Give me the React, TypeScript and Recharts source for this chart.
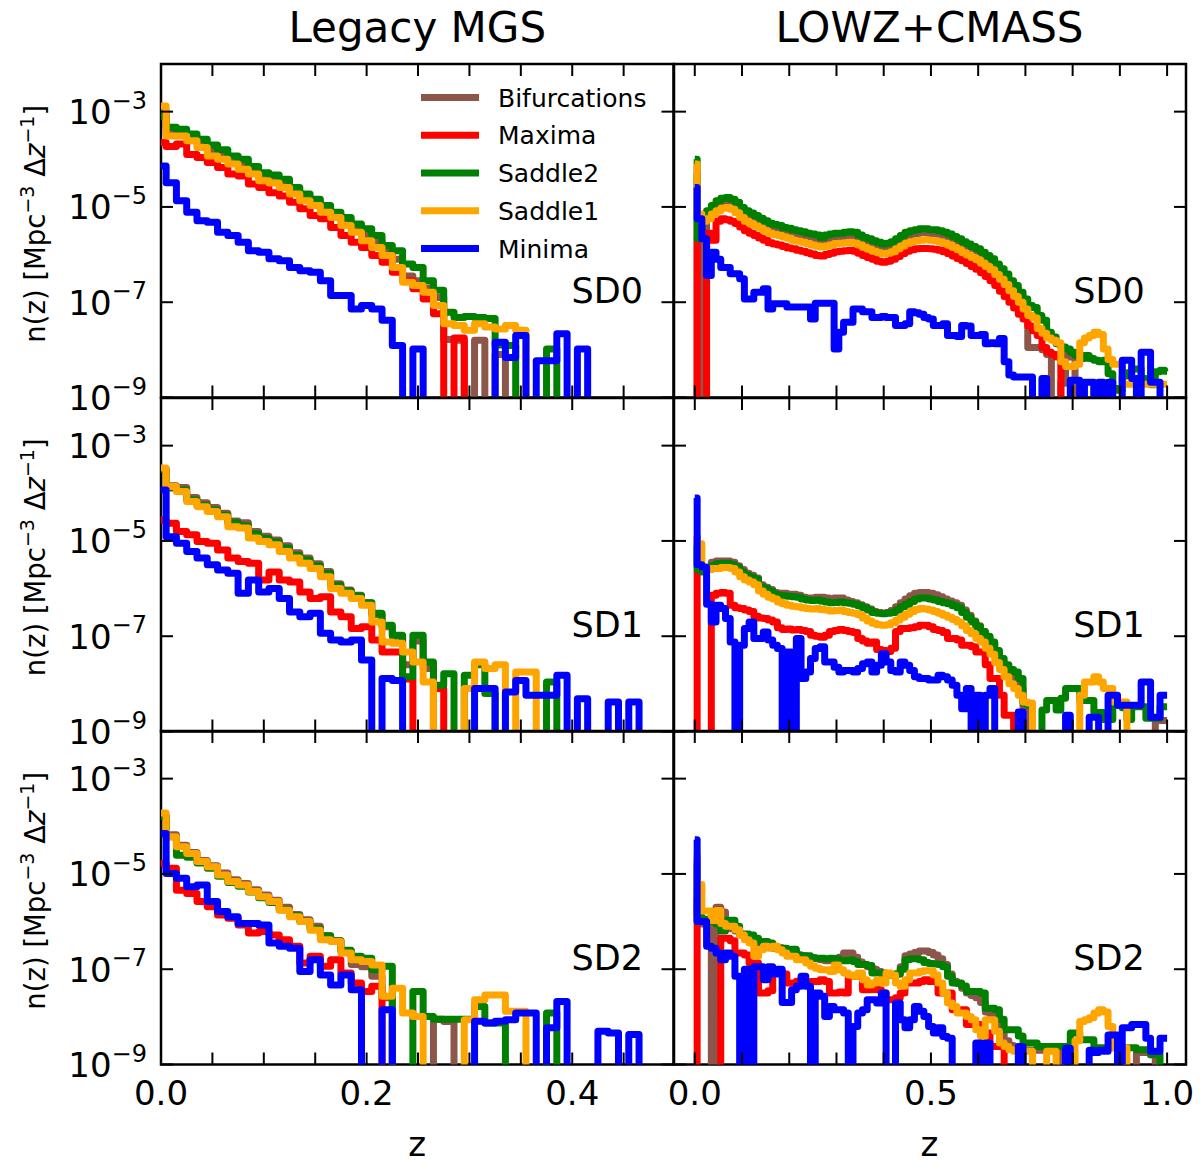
import React from "react";
import { LineChart, Line, XAxis, YAxis, ReferenceArea, Legend } from "recharts";

const FONT = "DejaVu Sans";
// empty bin: far below the 1e-9 floor, so the step drops out of the frame
const E = -12;

// bin centres (dz = 0.01)
const zMgs = Array.from({ length: 50 }, (_, i) => i / 100);
const zLowz = Array.from({ length: 101 }, (_, i) => i / 100);

const mgsTicks = [0, 0.05, 0.1, 0.15, 0.2, 0.25, 0.3, 0.35, 0.4, 0.45];
const mgsTickLabels = [0, 0.2, 0.4];
const lowzTicks = [0, 0.1, 0.2, 0.3, 0.4, 0.5, 0.6, 0.7, 0.8, 0.9, 1.0];
const lowzTickLabels = [0, 0.5, 1.0];
const yTicks = [1e-9, 1e-7, 1e-5, 1e-3];

const seriesKeys = ["bif", "max", "s2", "s1", "min"];
const seriesNames = ["Bifurcations", "Maxima", "Saddle2", "Saddle1", "Minima"];
const seriesColors = ["#8c564b", "#ff0000", "#008000", "#ffa500", "#0000ff"];

const sdLabels = ["SD0", "SD1", "SD2"];
const titles = ["Legacy MGS", "LOWZ+CMASS"];

// ---- log10 n(z), Legacy MGS ----
const mgs0Bif = [
  -3.0, -3.42, -3.45, -3.55, -3.67, -3.82, -3.9, -4.02, -4.1, -4.23,
  -4.36, -4.42, -4.5, -4.66, -4.8, -4.9, -5.04, -5.16, -5.3, -5.44,
  -5.58, -5.72, -5.9, -6.1, -6.45, -6.55, -6.7, -6.9, -7.78, -7.8,
  E, -7.8, E, -8.1, E, E, E, E, E, E,
  E, E, E, E, E, E, E, E, E, E,
];
const mgs0Max = [
  -3.65, -3.73, -3.68, -3.9, -3.96, -4.07, -4.17, -4.31, -4.35, -4.52,
  -4.59, -4.7, -4.77, -4.9, -5.04, -5.18, -5.25, -5.43, -5.6, -5.74,
  -5.85, -6.02, -6.16, -6.37, -6.55, -6.72, -6.93, -7.24, E, -7.75,
  E, E, E, E, E, E, E, E, E, E,
  E, E, E, E, E, E, E, E, E, E,
];
const mgs0S2 = [
  -3.1, -3.33, -3.37, -3.47, -3.58, -3.7, -3.8, -3.93, -4.0, -4.15,
  -4.28, -4.33, -4.42, -4.59, -4.73, -4.84, -4.97, -5.11, -5.22, -5.36,
  -5.46, -5.6, -5.81, -5.92, -6.2, -6.27, -6.55, -6.75, -7.21, -7.32,
  -7.3, -7.32, -7.34, -7.9, -7.91, E, E, E, -7.98, E,
  E, E, E, E, E, E, E, E, E, E,
];
const mgs0S1 = [
  -2.88, -3.51, -3.51, -3.61, -3.75, -3.93, -4.0, -4.1, -4.21, -4.31,
  -4.45, -4.5, -4.59, -4.73, -4.87, -4.97, -5.11, -5.22, -5.39, -5.53,
  -5.71, -5.85, -6.02, -6.27, -6.58, -6.65, -6.79, -7.07, -7.45, -7.49,
  -7.59, -7.45, -7.52, -7.56, -7.49, -7.59, E, E, E, E,
  E, E, E, E, E, E, E, E, E, E,
];
const mgs0Min = [
  -4.14, -4.49, -4.87, -5.11, -5.29, -5.32, -5.53, -5.6, -5.74, -5.92,
  -5.95, -6.09, -6.13, -6.27, -6.34, -6.37, -6.55, -6.86, -6.86, -7.14,
  -7.07, -7.14, -7.38, -7.91, E, -7.98, E, E, E, E,
  E, E, E, -7.84, -8.16, -7.7, E, -8.23, -8.23, -7.66,
  E, -7.98, E, E, E, E, E, E, E, E,
];

const mgs1Bif = [
  -3.5, -3.84, -3.88, -4.09, -4.2, -4.3, -4.42, -4.58, -4.62, -4.8,
  -4.9, -4.98, -5.1, -5.25, -5.36, -5.48, -5.64, -5.9, -6.03, -6.14,
  -6.3, -6.55, -6.8, -7.0, -7.6, -7.1, -7.68, E, E, E,
  E, E, E, E, E, E, E, E, E, E,
  E, E, E, E, E, E, E, E, E, E,
];
const mgs1Max = [
  -4.56, -4.63, -4.8, -4.87, -5.01, -5.05, -5.19, -5.36, -5.43, -5.47,
  -5.82, -5.65, -5.82, -5.86, -6.07, -6.21, -6.17, -6.49, -6.59, -6.84,
  -6.8, -7.08, -7.33, -7.33, -7.9, E, E, -8.1, E, E,
  E, E, E, E, E, E, E, E, E, E,
  E, E, E, E, E, E, E, E, E, E,
];
const mgs1S2 = [
  -3.5, -3.89, -3.93, -4.14, -4.25, -4.35, -4.46, -4.62, -4.68, -4.85,
  -4.95, -5.02, -5.15, -5.3, -5.4, -5.52, -5.68, -5.93, -6.05, -6.15,
  -6.3, -6.52, -6.77, -6.98, -7.85, -6.98, -7.54, -8.03, -7.79, E,
  -7.82, -7.6, -8.2, E, E, E, E, E, -7.96, E,
  E, E, E, E, E, E, E, E, E, E,
];
const mgs1S1 = [
  -3.47, -3.86, -3.96, -4.17, -4.28, -4.38, -4.49, -4.7, -4.73, -4.94,
  -5.01, -5.08, -5.22, -5.36, -5.47, -5.58, -5.75, -6.0, -6.1, -6.21,
  -6.35, -6.7, -7.12, -7.15, -7.33, -7.54, -7.96, E, E, E,
  -8.1, -7.54, -7.68, -7.6, E, -7.75, -7.75, E, E, E,
  E, E, E, E, E, E, E, E, E, E,
];
const mgs1Min = [
  -3.93, -4.91, -5.05, -5.22, -5.36, -5.5, -5.61, -5.68, -6.1, -5.82,
  -6.07, -6.0, -6.21, -6.49, -6.59, -6.52, -6.94, -7.08, -7.12, -7.08,
  -7.5, E, -7.89, -7.93, E, E, E, E, E, E,
  E, -8.1, -8.1, E, -8.17, -7.93, -8.24, -8.24, -8.24, -7.82,
  E, -8.31, E, E, -8.38, E, -8.38, E, E, E,
];

const mgs2Bif = [
  -3.78, -4.18, -4.4, -4.55, -4.72, -4.83, -4.98, -5.12, -5.2, -5.33,
  -5.44, -5.55, -5.7, -5.85, -5.96, -6.1, -6.3, -6.4, -6.62, -6.9,
  -6.95, -7.15, -7.6, E, E, E, E, -8.05, -8.1, E,
  E, E, E, E, E, E, E, E, E, E,
  E, E, E, E, E, E, E, E, E, E,
];
const mgs2Max = [
  -4.78, -4.88, -5.34, -5.41, -5.58, -5.69, -5.86, -5.93, -6.07, -6.24,
  -6.21, -6.28, -6.38, -6.52, -6.87, -6.73, -6.94, -6.8, -7.08, -7.29,
  -7.47, -7.36, E, E, E, E, E, E, E, E,
  E, E, E, E, E, E, E, E, E, E,
  E, E, E, E, E, E, E, E, E, E,
];
const mgs2S2 = [
  -3.8, -4.22, -4.61, -4.65, -4.77, -4.88, -5.05, -5.18, -5.26, -5.38,
  -5.5, -5.6, -5.75, -5.88, -6.0, -6.15, -6.3, -6.4, -6.6, -6.73,
  -6.77, -7.01, -6.94, E, E, -7.47, -7.99, -8.05, -8.05, -8.05,
  -8.05, -7.78, -8.13, -8.13, E, E, E, E, -7.92, E,
  E, E, E, E, E, E, E, E, E, E,
];
const mgs2S1 = [
  -3.72, -4.22, -4.43, -4.57, -4.74, -4.85, -5.02, -5.16, -5.23, -5.37,
  -5.48, -5.58, -5.76, -5.9, -6.0, -6.18, -6.38, -6.42, -6.66, -6.8,
  -6.84, -6.91, -7.57, -7.4, -7.92, -7.99, E, E, E, E,
  -8.06, -7.64, -7.54, -7.54, -7.88, -7.88, E, E, E, E,
  E, E, E, E, E, E, E, E, E, E,
];
const mgs2Min = [
  -4.15, -4.99, -5.09, -5.27, -5.23, -5.58, -5.79, -5.9, -6.04, -6.04,
  -6.07, -6.45, -6.52, -6.56, -7.05, -6.8, -7.12, -7.33, -7.12, -7.43,
  E, E, -7.85, E, E, E, E, E, E, E,
  E, -8.09, -8.13, -8.09, -8.06, -7.92, -7.92, E, -8.23, -7.68,
  E, E, E, -8.3, -8.34, E, -8.37, E, E, E,
];

// ---- log10 n(z), LOWZ+CMASS ----
const lowz0Bif = [
  -4.3, E, -5.67, -5.15, -5.05, -4.95, -4.9, -4.88, -4.92, -4.98,
  -5.09, -5.16, -5.21, -5.26, -5.32, -5.37, -5.42, -5.45, -5.47, -5.51,
  -5.53, -5.56, -5.58, -5.6, -5.63, -5.65, -5.67, -5.72, -5.67, -5.65,
  -5.63, -5.63, -5.61, -5.6, -5.61, -5.67, -5.72, -5.75, -5.79, -5.82,
  -5.86, -5.84, -5.81, -5.75, -5.68, -5.61, -5.58, -5.56, -5.54, -5.54,
  -5.56, -5.56, -5.58, -5.61, -5.65, -5.7, -5.75, -5.81, -5.86, -5.91,
  -5.96, -6.03, -6.1, -6.17, -6.28, -6.38, -6.49, -6.63, -6.73, -6.87,
  -7.2, -7.95, -7.95, -7.95, -8.0, -8.1, E, E, -8.7, -8.12,
  -8.15, E, E, E, E, -8.7, -8.7, E, E, E,
  E, E, E, E, E, E, E, E, E, E,
  E,
];
const lowz0Max = [
  -5.67, E, E, -5.55, -5.7, -5.3, -5.25, -5.27, -5.3, -5.35,
  -5.42, -5.5, -5.55, -5.6, -5.65, -5.7, -5.75, -5.78, -5.8, -5.83,
  -5.86, -5.88, -5.91, -5.93, -5.96, -5.99, -6.02, -6.03, -6.0, -5.97,
  -5.94, -5.93, -5.92, -5.91, -5.93, -5.97, -6.02, -6.06, -6.1, -6.14,
  -6.16, -6.14, -6.1, -6.04, -5.98, -5.93, -5.9, -5.88, -5.87, -5.87,
  -5.88, -5.89, -5.91, -5.94, -5.98, -6.03, -6.08, -6.13, -6.19, -6.25,
  -6.31, -6.38, -6.46, -6.55, -6.65, -6.77, -6.88, -7.0, -7.12, -7.25,
  -7.35, -7.5, -7.6, -7.7, -7.95, -8.05, -8.1, -8.15, E, E,
  E, E, E, E, E, E, E, E, E, E,
  E, E, E, E, E, E, E, E, E, E,
  E,
];
const lowz0S2 = [
  -4.0, -5.67, -5.2, -5.08, -4.97, -4.87, -4.82, -4.8, -4.84, -4.9,
  -5.01, -5.08, -5.13, -5.18, -5.24, -5.29, -5.34, -5.37, -5.39, -5.43,
  -5.45, -5.48, -5.5, -5.52, -5.55, -5.57, -5.59, -5.64, -5.59, -5.57,
  -5.55, -5.55, -5.53, -5.52, -5.53, -5.59, -5.64, -5.67, -5.71, -5.74,
  -5.78, -5.76, -5.73, -5.67, -5.6, -5.53, -5.5, -5.48, -5.46, -5.46,
  -5.48, -5.48, -5.5, -5.53, -5.57, -5.62, -5.67, -5.73, -5.78, -5.83,
  -5.88, -5.95, -6.02, -6.09, -6.2, -6.3, -6.41, -6.55, -6.65, -6.79,
  -6.93, -7.07, -7.11, -7.28, -7.38, -7.63, -7.73, -7.87, -7.94, -7.98,
  -8.05, -8.12, -8.18, -8.12, -8.18, -8.22, -8.25, -8.22, -8.5, -8.81,
  -8.85, -8.55, -8.48, -8.4, -8.4, -8.6, -8.7, -8.73, -8.46, -8.43,
  -8.45,
];
const lowz0S1 = [
  -4.1, -5.15, -5.3, -5.25, -5.15, -5.08, -5.03, -5.01, -5.05, -5.12,
  -5.22, -5.3, -5.35, -5.4, -5.45, -5.5, -5.55, -5.58, -5.6, -5.63,
  -5.66, -5.7, -5.72, -5.74, -5.77, -5.8, -5.82, -5.84, -5.82, -5.8,
  -5.77, -5.76, -5.75, -5.74, -5.76, -5.8, -5.85, -5.89, -5.93, -5.96,
  -5.99, -5.97, -5.94, -5.88, -5.82, -5.76, -5.73, -5.71, -5.7, -5.69,
  -5.7, -5.71, -5.73, -5.76, -5.8, -5.85, -5.9, -5.96, -6.01, -6.06,
  -6.11, -6.18, -6.25, -6.32, -6.42, -6.52, -6.63, -6.76, -6.88, -7.0,
  -7.14, -7.28, -7.33, -7.55, -7.65, -7.75, -7.8, -7.85, -8.25, -8.35,
  -8.35, -8.3, -7.85, -7.75, -7.7, -7.63, -7.68, -7.98, -8.2, -8.3,
  -8.3, -8.72, -8.72, -8.72, -8.72, -8.72, -8.72, -8.72, -8.72, -8.72,
  -8.72,
];
const lowz0Min = [
  -4.59, -5.25, -5.67, -6.44, -5.95, -6.1, -6.27, -6.27, -6.4, -6.4,
  -6.51, -6.93, -6.93, -6.79, -6.79, -6.72, -7.14, -7.03, -7.03, -7.03,
  -7.1, -7.1, -7.1, -7.1, -7.1, -7.35, -7.02, -7.02, -7.02, -7.02,
  -7.98, -7.63, -7.42, -7.42, -7.14, -7.14, -7.2, -7.2, -7.32, -7.32,
  -7.3, -7.32, -7.32, -7.49, -7.49, -7.45, -7.2, -7.22, -7.25, -7.32,
  -7.35, -7.49, -7.49, -7.45, -7.7, -7.7, -7.72, -7.49, -7.5, -7.7,
  -7.7, -7.68, -7.87, -7.85, -7.87, -7.76, -8.25, -8.53, -8.57, -8.57,
  -8.57, -8.57, E, E, -8.6, E, E, E, E, E,
  -8.64, -8.64, E, -8.68, -8.68, E, -8.68, E, -8.68, E,
  E, -8.22, -8.22, -8.6, E, -8.05, -8.05, -8.68, -8.68, E,
  E,
];

const lowz1Bif = [
  -4.9, -5.55, -5.6, -5.55, -5.45, -5.42, -5.42, -5.42, -5.45, -5.52,
  -5.6, -5.68, -5.72, -5.78, -5.92, -5.97, -6.02, -6.08, -6.1, -6.1,
  -6.12, -6.12, -6.14, -6.18, -6.2, -6.2, -6.18, -6.18, -6.2, -6.22,
  -6.2, -6.2, -6.24, -6.27, -6.3, -6.34, -6.38, -6.43, -6.48, -6.5,
  -6.52, -6.5, -6.46, -6.38, -6.3, -6.22, -6.15, -6.1, -6.08, -6.08,
  -6.1, -6.13, -6.17, -6.22, -6.26, -6.3, -6.35, -6.45, -6.56, -6.68,
  -6.78, -6.9, -7.02, -7.15, -7.35, -7.55, -7.7, -7.85, -7.95, -8.1,
  -8.5, E, E, E, E, E, E, E, E, E,
  E, E, E, E, E, E, E, E, E, E,
  E, E, E, E, E, E, E, E, -8.75, -8.77,
  -8.77,
];
const lowz1Max = [
  -5.6, E, E, E, -6.14, -6.1, -6.08, -6.1, -6.35, -6.4,
  -6.42, -6.45, -6.48, -6.58, -6.62, -6.63, -6.66, -6.7, -6.82, -6.86,
  -6.85, -6.87, -6.86, -6.88, -6.9, -6.98, -7.0, -7.02, -6.98, -6.9,
  -6.88, -6.86, -6.88, -6.9, -6.92, -7.05, -7.1, -7.15, -7.12, -7.28,
  -7.3, -7.32, -7.25, -6.9, -6.84, -6.84, -6.82, -6.8, -6.77, -6.77,
  -6.8, -6.86, -6.88, -6.92, -7.05, -7.05, -7.08, -7.19, -7.19, -7.22,
  -7.33, -7.33, -7.6, -7.89, -7.89, -8.24, -8.66, -8.66, E, E,
  E, E, E, E, E, E, E, E, E, E,
  E, E, E, E, E, E, E, E, E, E,
  E, E, E, E, E, E, E, E, E, E,
  E,
];
const lowz1S2 = [
  -5.1, -5.6, -5.65, -5.6, -5.52, -5.48, -5.47, -5.47, -5.5, -5.55,
  -5.65, -5.72, -5.76, -5.8, -5.96, -6.0, -6.05, -6.12, -6.14, -6.15,
  -6.16, -6.17, -6.18, -6.22, -6.24, -6.25, -6.24, -6.26, -6.28, -6.3,
  -6.29, -6.28, -6.3, -6.31, -6.33, -6.36, -6.4, -6.45, -6.5, -6.52,
  -6.53, -6.52, -6.5, -6.45, -6.38, -6.33, -6.27, -6.22, -6.2, -6.2,
  -6.22, -6.24, -6.27, -6.3, -6.32, -6.36, -6.4, -6.5, -6.6, -6.7,
  -6.8, -6.9, -7.0, -7.12, -7.3, -7.47, -7.6, -7.7, -7.75, -7.89,
  -8.4, -8.45, E, E, -8.55, -8.35, -8.35, -8.55, -8.3, -8.1,
  -8.1, -8.1, -8.35, -8.35, -8.35, -8.6, -8.6, -8.75, -8.75, -8.45,
  -8.45, -8.5, -8.75, -8.48, -8.48, -8.48, -8.72, -8.72, -8.72, -8.48,
  -8.48,
];
const lowz1S1 = [
  -5.1, -5.06, -5.55, -5.6, -5.58, -5.58, -5.56, -5.56, -5.58, -5.65,
  -5.75, -5.82, -5.86, -5.92, -6.05, -6.12, -6.18, -6.22, -6.28, -6.32,
  -6.35, -6.37, -6.38, -6.4, -6.42, -6.43, -6.42, -6.44, -6.45, -6.47,
  -6.46, -6.45, -6.48, -6.5, -6.52, -6.55, -6.62, -6.68, -6.73, -6.76,
  -6.77, -6.76, -6.72, -6.66, -6.6, -6.54, -6.48, -6.44, -6.42, -6.43,
  -6.45, -6.48, -6.52, -6.56, -6.6, -6.65, -6.7, -6.78, -6.88, -6.95,
  -7.05, -7.12, -7.25, -7.38, -7.55, -7.7, -7.85, -8.0, -8.1, -8.24,
  -8.38, -8.4, E, E, E, E, E, E, E, E,
  E, E, -8.24, -7.96, -7.96, -7.85, -7.96, -8.1, -8.1, -8.38,
  -8.38, -8.38, E, E, E, E, E, E, E, E,
  E,
];
const lowz1Min = [
  -4.1, -5.5, -5.55, -6.33, -6.7, -6.35, -6.42, -6.63, -7.12, E,
  -7.19, -6.84, -6.7, -7.05, -7.05, -6.91, -7.08, -7.19, -7.26, E,
  -7.33, E, -7.05, -7.89, -7.75, -7.47, -7.26, -7.22, -7.54, -7.54,
  -7.65, -7.75, -7.72, -7.72, -7.75, -7.68, -7.58, -7.54, -7.75, -7.61,
  -7.37, -7.54, -7.72, -7.75, -7.54, -7.61, -7.72, -7.85, -7.89, -7.89,
  -7.92, -7.92, -7.82, -7.85, -7.92, -8.03, -8.24, -8.52, -8.1, E,
  -8.24, E, -8.24, -8.1, E, E, E, E, E, -8.59,
  E, E, E, E, E, E, E, E, E, -8.66,
  E, E, E, E, -8.7, -8.7, E, E, -8.24, -8.24,
  -8.45, -8.45, -8.45, -8.45, -8.45, -7.96, -7.96, -8.7, -8.7, -8.24,
  -8.24,
];

const lowz2Bif = [
  -4.7, -6.0, -6.05, -6.1, E, -5.7, -5.8, -6.1, -6.15, -6.2,
  -6.28, -6.3, -6.35, -6.4, -6.45, -6.5, -6.52, -6.52, -6.55, -6.58,
  -6.6, -6.62, -6.7, -6.72, -6.74, -6.76, -6.78, -6.8, -6.82, -6.8,
  -6.78, -6.75, -6.66, -6.66, -6.75, -6.85, -6.9, -6.95, -7.0, -7.05,
  -7.08, -7.1, -7.12, -7.1, -6.95, -6.72, -6.68, -6.65, -6.62, -6.62,
  -6.65, -6.7, -6.78, -6.9, -7.1, -7.25, -7.3, -7.4, -7.5, -7.55,
  -7.6, -7.7, -7.9, -7.95, -8.1, -8.3, -8.5, -8.6, -8.7, -8.7,
  -8.7, -8.7, -8.7, -8.7, -8.7, -8.7, -8.7, -8.7, E, E,
  E, E, E, E, E, E, E, E, E, E,
  E, E, E, E, -8.75, -8.75, -8.75, -8.8, E, E,
  E,
];
const lowz2Max = [
  -5.5, E, E, E, E, E, -6.35, -6.35, -6.4, -6.66,
  -6.66, -6.7, -6.87, -6.87, -7.5, -7.5, -7.45, -7.08, -7.05, -7.1,
  -7.29, -7.29, -7.25, -7.3, -7.29, -7.26, -7.26, -7.22, -7.26, -7.5,
  -7.5, -7.48, -7.5, -7.15, -7.15, -7.12, -7.43, -7.43, -7.4, -7.43,
  -7.5, -7.64, -7.64, -7.6, -7.5, -7.29, -7.29, -7.29, -7.26, -7.22,
  -7.26, -7.26, -7.5, -7.5, -7.5, -7.85, -7.85, -7.85, -8.16, -8.16,
  -8.16, -8.34, -8.34, -8.62, -8.62, -8.62, E, E, E, E,
  E, E, E, E, E, E, E, E, E, E,
  E, E, E, E, E, E, E, E, E, E,
  E, E, E, E, E, E, E, E, E, E,
  E,
];
const lowz2S2 = [
  -4.8, -5.9, -5.95, -5.95, -6.0, -6.05, -6.2, -5.97, -5.97, -6.1,
  -6.26, -6.26, -6.28, -6.35, -6.42, -6.42, -6.45, -6.56, -6.56, -6.56,
  -6.58, -6.58, -6.7, -6.72, -6.72, -6.76, -6.77, -6.77, -6.78, -6.77,
  -6.78, -6.82, -6.82, -6.8, -6.84, -6.9, -6.9, -6.92, -7.08, -7.08,
  -7.1, -7.12, -7.12, -7.1, -7.0, -6.8, -6.78, -6.78, -6.8, -6.86,
  -6.88, -6.89, -6.9, -6.95, -7.15, -7.29, -7.29, -7.35, -7.47, -7.47,
  -7.47, -7.5, -7.82, -7.82, -7.85, -8.05, -8.27, -8.27, -8.27, -8.4,
  -8.55, -8.55, -8.55, -8.62, -8.62, -8.62, -8.62, -8.62, -8.62, -8.62,
  -8.34, -8.34, -8.48, -8.48, -8.48, -8.65, -8.65, -8.65, -8.65, -8.65,
  -8.65, -8.65, -8.65, -8.65, -8.69, -8.69, -8.69, -8.79, -8.79, E,
  E,
];
const lowz2S1 = [
  -4.6, -5.22, -5.78, -5.78, -5.98, -5.77, -6.04, -6.1, -6.1, -6.17,
  -6.28, -6.38, -6.45, -6.73, -6.59, -6.52, -6.56, -6.52, -6.59, -6.66,
  -6.73, -6.73, -6.8, -6.8, -6.87, -6.94, -6.98, -7.01, -7.01, -7.05,
  -6.91, -7.01, -7.08, -7.12, -7.15, -7.08, -7.22, -7.33, -7.29, -7.22,
  -7.29, -7.08, -7.12, -7.29, -7.36, -7.22, -7.08, -7.08, -7.05, -7.03,
  -7.03, -7.12, -7.29, -7.5, -7.71, -7.78, -7.92, -7.92, -7.99, -8.06,
  -8.27, -8.41, -8.06, -8.06, -8.3, -8.55, -8.62, -8.69, -8.72, -8.72,
  -8.72, -8.72, E, E, E, -8.72, -8.72, E, E, E,
  E, -8.5, -8.1, -8.06, -8.02, -7.92, -7.85, -7.9, -8.2, -8.65,
  -8.65, -8.65, E, E, E, E, E, E, E, E,
  E,
];
const lowz2Min = [
  -4.28, -6.0, -6.0, -6.52, -6.56, -6.66, -6.8, -6.66, -6.73, -7.15,
  E, -7.0, E, -6.95, -6.95, -7.22, -6.95, -7.1, -7.0, -7.7,
  -7.7, -7.43, -7.36, -7.15, -7.36, E, -7.5, -7.57, -7.99, -7.78,
  -7.85, -7.85, -7.92, E, -8.2, -7.92, -7.85, -7.64, -7.64, -7.71,
  -7.5, E, E, -7.71, -8.06, -8.23, -8.06, -7.78, -7.88, -7.99,
  -8.2, -8.34, -8.23, -8.41, -8.45, E, E, E, E, E,
  -8.55, E, -8.55, E, E, E, E, E, E, -8.62,
  E, E, E, E, E, E, E, E, E, -8.66,
  E, E, E, E, -8.7, -8.75, -8.7, -8.72, -8.38, -8.38,
  E, -8.23, -8.23, -8.16, -8.16, -8.16, -8.45, -8.72, -8.72, -8.45,
  -8.45,
];

// panel geometry on the page
const colLeft = [161, 673.5];
const colWidth = [512.5, 512];
const rowTop = [64, 397.5, 731];
const rowHeight = 333.5;
const TICK = 12;
const LINE_W = 7;

const panels = [
  { row: 0, col: 0, series: [mgs0Bif, mgs0Max, mgs0S2, mgs0S1, mgs0Min] },
  { row: 0, col: 1, series: [lowz0Bif, lowz0Max, lowz0S2, lowz0S1, lowz0Min] },
  { row: 1, col: 0, series: [mgs1Bif, mgs1Max, mgs1S2, mgs1S1, mgs1Min] },
  { row: 1, col: 1, series: [lowz1Bif, lowz1Max, lowz1S2, lowz1S1, lowz1Min] },
  { row: 2, col: 0, series: [mgs2Bif, mgs2Max, mgs2S2, mgs2S1, mgs2Min] },
  { row: 2, col: 1, series: [lowz2Bif, lowz2Max, lowz2S2, lowz2S1, lowz2Min] },
];

const renderLegend = (props: any) => {
  const items = [...(props.payload || [])].sort(
    (a: any, b: any) => seriesNames.indexOf(a.value) - seriesNames.indexOf(b.value)
  );
  return (
    <svg width={250} height={195} style={{ display: "block" }}>
      {items.map((it: any, i: number) => {
        const cy = 22.5 + 37.75 * i;
        return (
          <g key={it.value}>
            <line x1={6} x2={64} y1={cy} y2={cy} stroke={it.color} strokeWidth={LINE_W} />
            <text x={83} y={cy + 9} fontSize={25} fontFamily={FONT} fill="#000">
              {it.value}
            </text>
          </g>
        );
      })}
    </svg>
  );
};

function Panel({ row, col, series }: { row: number; col: number; series: number[][] }) {
  const isMgs = col === 0;
  const z = isMgs ? zMgs : zLowz;
  const xDomain = isMgs ? [0, 0.4985] : [-0.044, 1.04];
  const xTicks = isMgs ? mgsTicks : lowzTicks;
  const xTickLabels = isMgs ? mgsTickLabels : lowzTickLabels;

  const ml = col === 0 ? colLeft[0] : 20;
  const mt = 20;
  const mr = 20;
  const mb = row === 2 ? 100 : 20;
  const w = colWidth[col];
  const h = rowHeight;
  const left = colLeft[col] - ml;
  const top = rowTop[row] - mt;
  const plotTop = mt;
  const plotBottom = mt + h;
  const plotLeft = ml;
  const plotRight = ml + w;

  const data = z.map((zv, i) => {
    const r: Record<string, number> = { z: zv };
    seriesKeys.forEach((k, j) => {
      r[k] = Math.pow(10, series[j][i] ?? E);
    });
    return r;
  });

  const xTick = (p: any) => {
    const x = p.x;
    const v = p.payload.value;
    const labelled = row === 2 && xTickLabels.some((t) => Math.abs(t - v) < 1e-9);
    return (
      <g>
        <line x1={x} x2={x} y1={plotBottom} y2={plotBottom - TICK} stroke="#000" strokeWidth={2} />
        <line x1={x} x2={x} y1={plotTop} y2={plotTop + TICK} stroke="#000" strokeWidth={2} />
        {labelled && (
          <text x={x} y={plotBottom + 40.5} textAnchor="middle" fontSize={34} fontFamily={FONT} fill="#000">
            {v.toFixed(1)}
          </text>
        )}
      </g>
    );
  };

  const yTick = (p: any) => {
    const y = p.y;
    const exp = Math.round(Math.log10(p.payload.value));
    return (
      <g>
        <line x1={plotLeft} x2={plotLeft + TICK} y1={y} y2={y} stroke="#000" strokeWidth={2} />
        <line x1={plotRight} x2={plotRight - TICK} y1={y} y2={y} stroke="#000" strokeWidth={2} />
        {col === 0 && (
          <text x={plotLeft - 14} y={y + 12.5} textAnchor="end" fontSize={34} fontFamily={FONT} fill="#000">
            10
            <tspan dy={-15.5} fontSize={24}>
              {"\u2212" + Math.abs(exp)}
            </tspan>
          </text>
        )}
      </g>
    );
  };

  // axes are 1px wide/high (a 0-size axis is not drawn), so the margins give up that pixel
  return (
    <div style={{ position: "absolute", left, top }}>
      <LineChart
        width={w + ml + mr}
        height={h + mt + mb}
        data={data}
        margin={{ top: mt, right: mr, bottom: mb - 1, left: ml - 1 }}
      >
        <XAxis
          dataKey="z"
          type="number"
          domain={xDomain}
          allowDataOverflow
          ticks={xTicks}
          interval={0}
          height={1}
          tickSize={0}
          tickMargin={0}
          axisLine={false}
          tickLine={false}
          tick={xTick}
        />
        <YAxis
          type="number"
          scale="log"
          domain={[1e-9, 1e-2]}
          allowDataOverflow
          ticks={yTicks}
          interval={0}
          width={1}
          tickSize={0}
          tickMargin={0}
          axisLine={false}
          tickLine={false}
          tick={yTick}
        />
        {seriesKeys.map((k, j) => (
          <Line
            key={k}
            dataKey={k}
            name={seriesNames[j]}
            type="step"
            stroke={seriesColors[j]}
            strokeWidth={LINE_W}
            strokeLinejoin="round"
            dot={false}
            activeDot={false}
            isAnimationActive={false}
          />
        ))}
        <ReferenceArea
          x1={xDomain[0]}
          x2={xDomain[1]}
          y1={1e-9}
          y2={1e-2}
          fill="none"
          stroke="#000"
          strokeWidth={2.5}
          fillOpacity={0}
          strokeOpacity={1}
        />
        {row === 0 && col === 0 && (
          <Legend
            layout="vertical"
            align="center"
            verticalAlign="middle"
            content={renderLegend}
            wrapperStyle={{ left: 415 - left, top: 75 - top, width: 250, height: 195 }}
          />
        )}
      </LineChart>
    </div>
  );
}

export default function App() {
  const rowCenters = rowTop.map((t) => t + rowHeight / 2);
  return (
    <div
      style={{
        position: "absolute",
        left: 0,
        top: 0,
        width: 1200,
        height: 1164,
        background: "#fff",
        overflow: "hidden",
      }}
    >
      {panels.map((p) => (
        <Panel key={`${p.row}-${p.col}`} row={p.row} col={p.col} series={p.series} />
      ))}
      <svg
        width={1200}
        height={1164}
        style={{ position: "absolute", left: 0, top: 0, pointerEvents: "none" }}
        fontFamily={FONT}
      >
        {titles.map((t, c) => (
          <text key={t} x={colLeft[c] + colWidth[c] / 2} y={42} textAnchor="middle" fontSize={42} fill="#000">
            {t}
          </text>
        ))}
        {rowCenters.map((cy, r) => (
          <text
            key={`yl${r}`}
            transform={`translate(45,${cy - 7}) rotate(-90)`}
            textAnchor="middle"
            fontSize={27.5}
            fill="#000"
          >
            n(z) [Mpc
            <tspan dy={-11} fontSize={19}>
              {"\u22123"}
            </tspan>
            <tspan dy={11}> {"\u0394"}</tspan>
            <tspan fontStyle="italic">z</tspan>
            <tspan dy={-11} fontSize={19}>
              {"\u22121"}
            </tspan>
            <tspan dy={11}>]</tspan>
          </text>
        ))}
        {colLeft.map((l, c) => (
          <text key={`xl${c}`} x={l + colWidth[c] / 2} y={1156} textAnchor="middle" fontSize={34} fill="#000">
            z
          </text>
        ))}
        {rowTop.map((t, r) =>
          colLeft.map((l, c) => (
            <text
              key={`sd${r}${c}`}
              x={l + colWidth[c] - (c === 0 ? 30.5 : 40.8)}
              y={t + 239}
              textAnchor="end"
              fontSize={35}
              fill="#000"
            >
              {sdLabels[r]}
            </text>
          ))
        )}
      </svg>
    </div>
  );
}
